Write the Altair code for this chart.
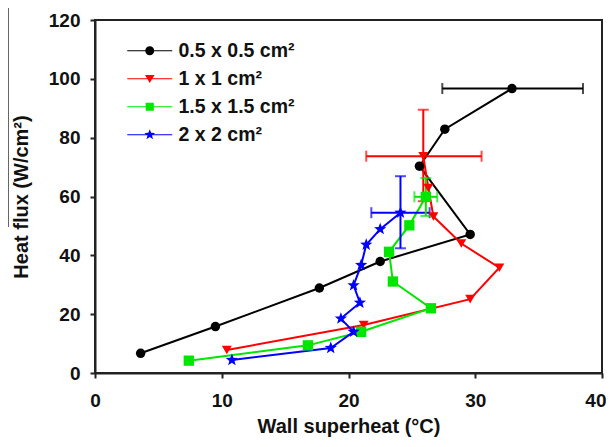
import altair as alt
import pandas as pd

# ---------------- data ----------------
series_names = ["0.5 x 0.5 cm²", "1 x 1 cm²", "1.5 x 1.5 cm²", "2 x 2 cm²"]
series_colors = ["#000000", "#ff0000", "#00e600", "#0000ff"]
series_sizes = [90, 115, 90, 90]

s1_x = [3.6, 9.5, 17.7, 22.5, 29.6, 25.6, 27.6, 32.9]
s1_y = [6.7, 15.8, 28.9, 37.9, 47.1, 70.3, 82.9, 96.7]
s2_x = [10.4, 21.2, 29.6, 31.9, 28.9, 26.7, 26.3, 25.9]
s2_y = [7.8, 16.3, 25.1, 35.8, 44.0, 53.2, 62.9, 73.7]
s3_x = [7.4, 16.8, 21.0, 26.5, 23.5, 23.2, 24.8, 26.1]
s3_y = [4.2, 9.4, 14.0, 22.0, 31.1, 41.2, 50.2, 59.9]
s4_x = [10.8, 18.6, 20.4, 19.4, 20.9, 20.4, 21.0, 21.4, 22.5, 24.1]
s4_y = [4.4, 8.5, 14.0, 18.5, 23.9, 29.8, 36.7, 43.6, 48.9, 54.5]

# horizontal error bars (x range at a given y)
xerr_series = ["0.5 x 0.5 cm²", "1 x 1 cm²", "1.5 x 1.5 cm²", "2 x 2 cm²"]
xerr_y = [96.7, 73.7, 59.9, 54.5]
xerr_lo = [27.4, 21.4, 25.2, 21.8]
xerr_hi = [38.5, 30.5, 27.0, 26.4]

# vertical error bars (y range at a given x)
yerr_series = ["1 x 1 cm²", "1.5 x 1.5 cm²", "2 x 2 cm²"]
yerr_x = [25.9, 26.1, 24.1]
yerr_lo = [58.4, 53.4, 42.4]
yerr_hi = [89.5, 66.3, 66.9]

x_ticks = [0, 10, 20, 30, 40]
y_ticks = [0, 20, 40, 60, 80, 100, 120]

# ---------------- tables ----------------
rows = []
for name, xs, ys in zip(series_names, [s1_x, s2_x, s3_x, s4_x], [s1_y, s2_y, s3_y, s4_y]):
    for i, (xv, yv) in enumerate(zip(xs, ys)):
        rows.append({"series": name, "x": xv, "y": yv, "idx": i})
df = pd.DataFrame(rows)

df_xerr = pd.DataFrame({"series": xerr_series, "y": xerr_y, "lo": xerr_lo, "hi": xerr_hi})
df_yerr = pd.DataFrame({"series": yerr_series, "x": yerr_x, "lo": yerr_lo, "hi": yerr_hi})
df_leg = pd.DataFrame({"series": series_names})

FONT = "Liberation Sans"

STAR = ("M0,-1.2L0.3,-0.41L1.14,-0.37L0.48,0.16L0.71,0.97L0,0.5"
        "L-0.71,0.97L-0.48,0.16L-1.14,-0.37L-0.3,-0.41Z")
point_shapes = ["circle", "triangle-down", "square", STAR]

LINE = "M-5,-0.1H5V0.1H-5Z "
legend_shapes = [
    LINE + "M-1,0A1,1 0 1,1 1,0A1,1 0 1,1 -1,0Z",
    LINE + "M-1.05,-0.85L1.05,-0.85L0,0.95Z",
    LINE + "M-0.9,-0.9H0.9V0.9H-0.9Z",
    LINE + "M0,-1.25L0.31,-0.42L1.19,-0.39L0.5,0.16L0.73,1.01L0,0.52"
           "L-0.73,1.01L-0.5,0.16L-1.19,-0.39L-0.31,-0.42Z",
]

xscale = alt.Scale(domain=[0, 40], nice=False, zero=False)
yscale = alt.Scale(domain=[0, 120], nice=False, zero=False)


def col(legend=None):
    return alt.Color("series:N", scale=alt.Scale(domain=series_names, range=series_colors),
                     legend=legend, sort=series_names)


x_axis = alt.Axis(values=x_ticks, title="Wall superheat (°C)", grid=False, tickSize=5, tickWidth=2,
                  tickColor="#222", domainColor="#222", domainWidth=2,
                  labelFont=FONT, labelFontSize=19, labelFontWeight="bold", labelColor="#111",
                  labelPadding=13, labelFlush=False,
                  labelAlign={"condition": {"test": "datum.value == 40", "value": "right"}, "value": "center"},
                  labelOffset={"condition": {"test": "datum.value == 40", "value": 4}, "value": 0},
                  titleFont=FONT, titleFontSize=20, titleFontWeight="bold", titleColor="#111",
                  titlePadding=6)
y_axis = alt.Axis(values=y_ticks, title="Heat flux (W/cm²)", grid=False, tickSize=5, tickWidth=2,
                  tickColor="#222", domainColor="#222", domainWidth=2,
                  labelFont=FONT, labelFontSize=19, labelFontWeight="bold", labelColor="#111",
                  labelPadding=10, labelFlush=False,
                  titleFont=FONT, titleFontSize=20, titleFontWeight="bold", titleColor="#111",
                  titlePadding=17)

base = alt.Chart(df)

lines = base.mark_line(strokeWidth=2).encode(
    x=alt.X("x:Q", scale=xscale, axis=x_axis),
    y=alt.Y("y:Q", scale=yscale, axis=y_axis),
    color=col(),
    detail="series:N",
    order=alt.Order("idx:Q"),
)

xerr_rule = alt.Chart(df_xerr).mark_rule(strokeWidth=2).encode(
    x=alt.X("lo:Q", scale=xscale), x2="hi:Q", y=alt.Y("y:Q", scale=yscale), color=col())
xerr_cap_lo = alt.Chart(df_xerr).mark_tick(orient="vertical", size=11, thickness=2).encode(
    x=alt.X("lo:Q", scale=xscale), y=alt.Y("y:Q", scale=yscale), color=col())
xerr_cap_hi = alt.Chart(df_xerr).mark_tick(orient="vertical", size=11, thickness=2).encode(
    x=alt.X("hi:Q", scale=xscale), y=alt.Y("y:Q", scale=yscale), color=col())

yerr_rule = alt.Chart(df_yerr).mark_rule(strokeWidth=2).encode(
    y=alt.Y("lo:Q", scale=yscale), y2="hi:Q", x=alt.X("x:Q", scale=xscale), color=col())
yerr_cap_lo = alt.Chart(df_yerr).mark_tick(orient="horizontal", size=11, thickness=2).encode(
    y=alt.Y("lo:Q", scale=yscale), x=alt.X("x:Q", scale=xscale), color=col())
yerr_cap_hi = alt.Chart(df_yerr).mark_tick(orient="horizontal", size=11, thickness=2).encode(
    y=alt.Y("hi:Q", scale=yscale), x=alt.X("x:Q", scale=xscale), color=col())

points = base.mark_point(filled=True, opacity=1, strokeWidth=0.5).encode(
    x=alt.X("x:Q", scale=xscale),
    y=alt.Y("y:Q", scale=yscale),
    color=col(),
    shape=alt.Shape("series:N", scale=alt.Scale(domain=series_names, range=point_shapes), legend=None),
    size=alt.Size("series:N", scale=alt.Scale(domain=series_names, range=series_sizes), legend=None),
)

leg = alt.Legend(title=None, orient="none", legendX=45, legendY=21, padding=0,
                 symbolSize=81, symbolOpacity=1, symbolStrokeWidth=1,
                 labelFont=FONT, labelFontSize=19.5, labelFontWeight="bold", labelColor="#111",
                 labelOffset=19, rowPadding=7, labelLimit=400)

legend_layer = alt.Chart(df_leg).mark_point(filled=True, opacity=0, size=81).encode(
    color=col(leg),
    shape=alt.Shape("series:N", scale=alt.Scale(domain=series_names, range=legend_shapes),
                    legend=leg, sort=series_names),
)

artifact = alt.Chart(df_leg).mark_rule(color="#666", strokeWidth=1).encode(
    x=alt.value(-86.5), y=alt.value(-12), y2=alt.value(207))

chart = alt.layer(
    lines, xerr_rule, xerr_cap_lo, xerr_cap_hi, yerr_rule, yerr_cap_lo, yerr_cap_hi,
    points, legend_layer, artifact,
).resolve_scale(color="independent", shape="independent", size="independent").properties(
    width=507, height=353,
    autosize=alt.AutoSizeParams(type="none"),
    padding={"left": 87, "top": 12, "right": 4, "bottom": 66},
).configure_view(stroke="#222", strokeWidth=2)

chart.save("out.html", embed_options={"renderer": "svg", "actions": False})
